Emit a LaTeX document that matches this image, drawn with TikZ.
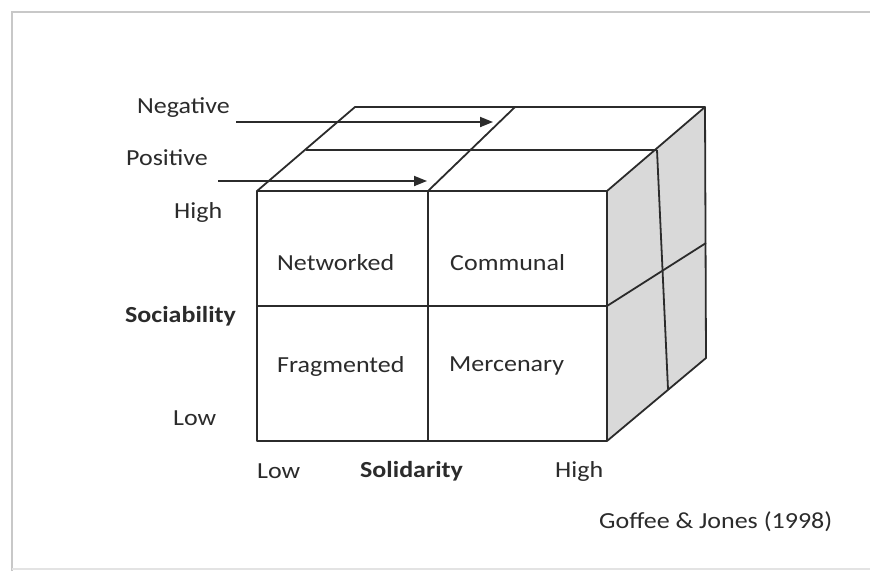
\documentclass[tikz,border=0pt]{standalone}
\usepackage{fontspec}
\setmainfont{Carlito}[FakeStretch=1.13]
\usetikzlibrary{arrows.meta}
\definecolor{ink}{HTML}{2B2B2B}
\definecolor{sideface}{HTML}{D9D9D9}
\definecolor{frameline}{HTML}{C8C8C8}
\begin{document}
\begin{tikzpicture}[x=1pt,y=-1pt,
  edge/.style={draw=ink,line width=1.8pt,line join=round},
  lbl/.style={text=ink,font=\fontsize{23}{26}\selectfont,inner sep=0pt},
  boldlbl/.style={lbl,font=\fontsize{23}{26}\selectfont\bfseries},
  pointer/.style={draw=ink,line width=1.8pt,-{Triangle[length=13pt,width=10pt]}}]
\useasboundingbox (0,0) rectangle (870,571);
\fill[white] (0,0) rectangle (870,571);
% outer frame
\draw[frameline,line width=2.5pt] (12,571) -- (12,12) -- (870,12);
\draw[frameline!50,line width=2pt] (12,569) -- (870,569);

% cube corners
\coordinate (ftl) at (257,191);
\coordinate (ftr) at (607,191);
\coordinate (fbl) at (257,441);
\coordinate (fbr) at (607,441);
\coordinate (ftm) at (428,191);
\coordinate (fbm) at (428,441);
\coordinate (fml) at (257,306);
\coordinate (fmr) at (607,306);
\coordinate (btl) at (355,107);
\coordinate (btr) at (705,107);
\coordinate (btm) at (515,107);
\coordinate (tml) at (306,150);
\coordinate (tmr) at (657,150);
\coordinate (bbr) at (706,358);
\coordinate (rmb) at (706,243);
\coordinate (rvb) at (668,389);

% right face
\fill[sideface] (ftr) -- (btr) -- (bbr) -- (fbr) -- cycle;

% front face grid
\draw[edge] (ftl) rectangle (fbr);
\draw[edge] (ftm) -- (fbm);
\draw[edge] (fml) -- (fmr);

% top face
\draw[edge] (ftl) -- (btl) -- (btr) -- (ftr);
\draw[edge] (ftm) -- (btm);
\draw[edge] (tml) -- (tmr);

% right face
\draw[edge] (btr) -- (bbr) -- (fbr);
\draw[edge] (fmr) -- (rmb);
\draw[edge] (tmr) -- (rvb);

% dimension labels and pointers
\node[lbl,anchor=west] (neg) at (137,108) {Negative};
\node[lbl,anchor=west] (pos) at (126,158) {Positive};
\coordinate (negs) at (236,122);
\coordinate (nege) at (493,122);
\coordinate (poss) at (218,181);
\coordinate (pose) at (427,181);
\draw[pointer] (negs) -- (nege);
\draw[pointer] (poss) -- (pose);

\node[lbl,anchor=west] (shigh) at (174,212) {High};
\node[boldlbl,anchor=west] (soc) at (125,316) {Sociability};
\node[lbl,anchor=west] (slow) at (173,418) {Low};

\node[lbl,anchor=west] (netw) at (277,263) {Networked};
\node[lbl,anchor=west] (comm) at (450,263) {Communal};
\node[lbl,anchor=west] (frag) at (277,366) {Fragmented};
\node[lbl,anchor=west] (merc) at (449,366) {Mercenary};

\node[lbl,anchor=west] (llow) at (257,471) {Low};
\node[boldlbl,anchor=west] (sol) at (360,471) {Solidarity};
\node[lbl,anchor=west] (lhigh) at (555,471) {High};

\node[lbl,anchor=west] (src) at (599,522) {Goffee \& Jones (1998)};
\end{tikzpicture}
\end{document}
